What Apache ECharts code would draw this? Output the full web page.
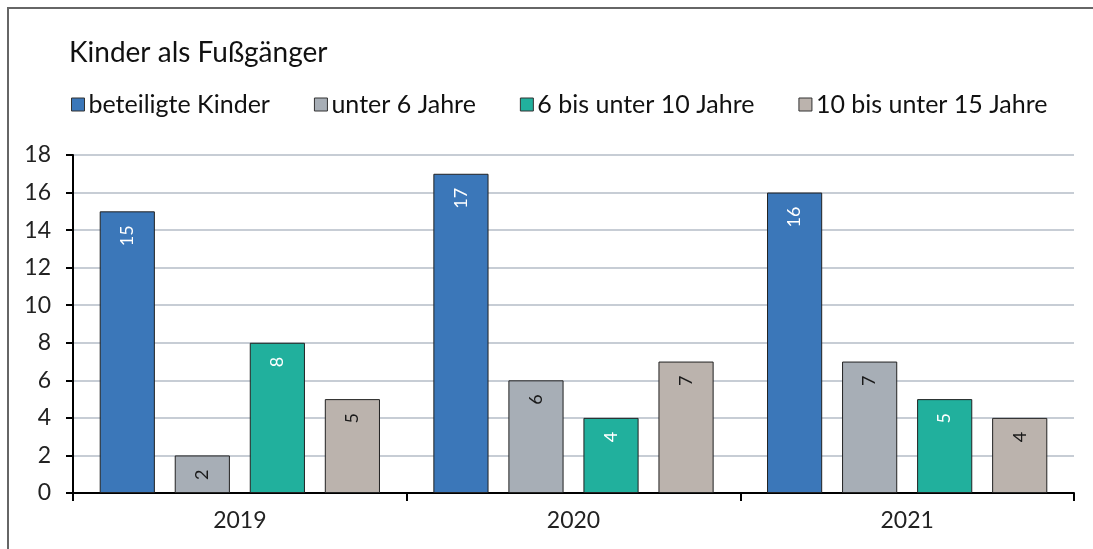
<!DOCTYPE html>
<html>
<head>
<meta charset="utf-8">
<script src="https://cdn.jsdelivr.net/npm/echarts@6/dist/echarts.min.js"></script>
<style>
    html, body { margin: 0; padding: 0; background: #fff; overflow: hidden; }
    #chart { width: 1093px; height: 549px; }
</style>
</head>
<body>
<div id="chart"></div>
<script>
/**
 * DATA
 */
var years = ['2019', '2020', '2021'];
var seriesNames = ['beteiligte Kinder', 'unter 6 Jahre', '6 bis unter 10 Jahre', '10 bis unter 15 Jahre'];
var beteiligt = [15, 17, 16];
var unter6 = [2, 6, 7];
var von6bis10 = [8, 4, 5];
var von10bis15 = [5, 7, 4];
var yTicks = [0, 2, 4, 6, 8, 10, 12, 14, 16, 18];

var colors = ['#3b77b9', '#a7aeb6', '#21b09d', '#bbb3ad'];
var labelColors = ['#ffffff', '#1a1a1a', '#ffffff', '#1a1a1a'];
var values = [beteiligt, unter6, von6bis10, von10bis15];

var font = 'Lato, "Noto Sans", sans-serif';

var chart = echarts.init(document.getElementById('chart'));

var series = seriesNames.map(function (name, i) {
    return {
        name: name,
        type: 'bar',
        data: values[i],
        barGap: '36%',
        barCategoryGap: '16%',
        itemStyle: {
            color: colors[i],
            borderColor: '#222',
            borderWidth: 1
        },
        label: {
            show: true,
            position: 'insideTop',
            rotate: 90,
            align: 'right',
            verticalAlign: 'middle',
            distance: 14,
            color: labelColors[i],
            fontFamily: font,
            fontSize: 18
        }
    };
});

chart.setOption({
    animation: false,
    // frame: only top and left edge are in view
    graphic: [{
        type: 'polyline',
        silent: true,
        shape: {points: [[8, 560], [8, 8], [1100, 8]]},
        style: {stroke: '#666', lineWidth: 2, fill: null}
    }],
    title: {
        text: 'Kinder als Fußgänger',
        left: 64,
        top: 34,
        textStyle: {fontFamily: font, fontSize: 28, fontWeight: 'normal', color: '#111'}
    },
    legend: {
        left: 66,
        top: 87,
        itemWidth: 13,
        itemHeight: 13,
        itemGap: 44,
        icon: 'rect',
        itemStyle: {borderColor: '#333', borderWidth: 1},
        textStyle: {fontFamily: font, fontSize: 25, color: '#111', padding: [0, 0, 0, -1]},
        data: seriesNames
    },
    grid: {left: 73, right: 19, top: 155, bottom: 56},
    xAxis: {
        type: 'category',
        data: years,
        axisLine: {lineStyle: {color: '#000', width: 2}},
        axisTick: {show: true, length: 8, lineStyle: {color: '#000', width: 2}},
        axisLabel: {fontFamily: font, fontSize: 23, color: '#222', margin: 16}
    },
    yAxis: {
        type: 'value',
        min: yTicks[0],
        max: yTicks[yTicks.length - 1],
        interval: 2,
        axisLine: {show: true, lineStyle: {color: '#000', width: 2}},
        axisTick: {show: true, length: 7, lineStyle: {color: '#000', width: 2}},
        axisLabel: {fontFamily: font, fontSize: 23, color: '#222', margin: 22},
        splitLine: {lineStyle: {color: '#b5bcc7', width: 1.5}}
    },
    series: series
});
</script>
</body>
</html>
